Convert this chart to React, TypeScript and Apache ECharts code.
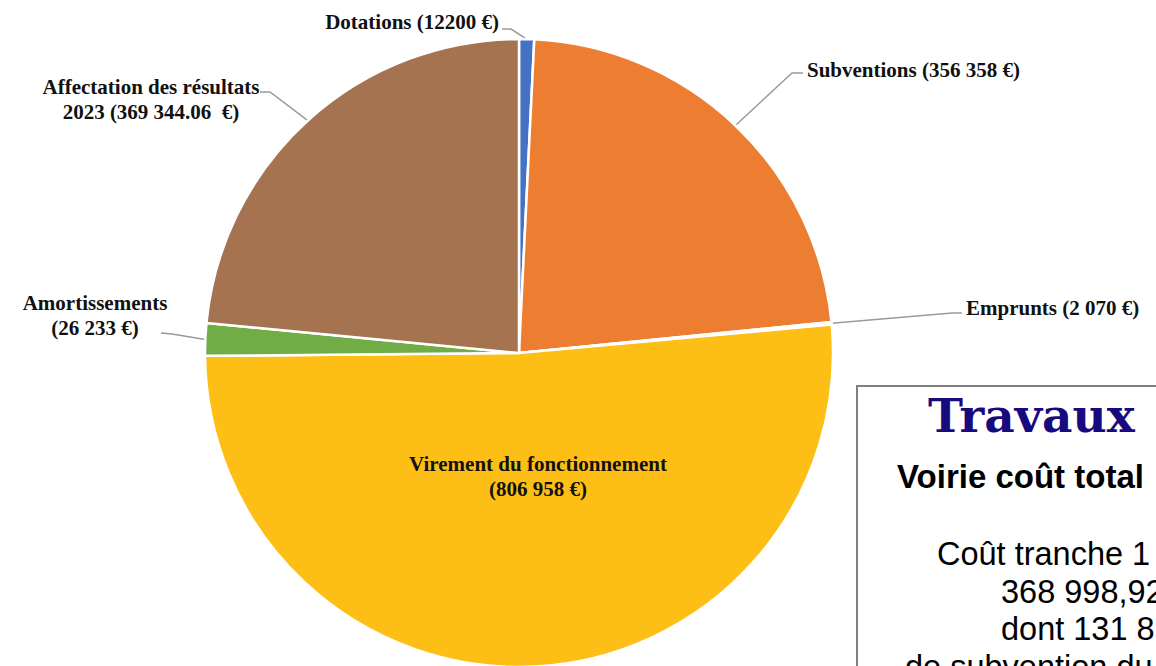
import React, { useEffect, useRef } from "react";
import * as echarts from "echarts";

// ---- data ----
const categories = [
  "Dotations",
  "Subventions",
  "Emprunts",
  "Virement du fonctionnement",
  "Amortissements",
  "Affectation des résultats 2023",
];
const values = [12200, 356358, 2070, 806958, 26233, 369344.06];
const labelTexts = [
  "Dotations (12200 €)",
  "Subventions (356 358 €)",
  "Emprunts (2 070 €)",
  "Virement du fonctionnement\n(806 958 €)",
  "Amortissements\n(26 233 €)",
  "Affectation des résultats\n2023 (369 344.06  €)",
];
const colors = ["#4472C4", "#ED7D31", "#A5A5A5", "#FDBE16", "#70AD47", "#A57350"];

const boxTitle = "Travaux";
const boxHeading = "Voirie coût total";
const boxLines = ["Coût tranche 1", "368 998,92", "dont 131 8", "de subvention du"];

// ---- label placement (annotation layout) ----
type Place = { x: number; y: number; align: string; bend?: number[]; end?: number[] };
const labelPlacement: Place[] = [
  { x: 499, y: 22, align: "right", bend: [511, 29], end: [502, 29] },
  { x: 807, y: 70, align: "left", bend: [792, 73], end: [803, 73] },
  { x: 966, y: 308, align: "left", bend: [952, 313], end: [962, 313] },
  { x: 538, y: 476, align: "center" },
  { x: 95, y: 315, align: "center", bend: [172, 334], end: [161, 333] },
  { x: 151, y: 99, align: "center", bend: [270, 92], end: [260, 92] },
];

export default function App() {
  const ref = useRef<HTMLDivElement>(null);
  useEffect(() => {
    if (!ref.current) return;
    const chart = echarts.init(ref.current, null, { renderer: "svg" });
    const data = categories.map((name, i) => {
      const item: any = { name, value: values[i], itemStyle: { color: colors[i] } };
      if (i === 3) {
        item.label = { position: "inside" };
        item.labelLine = { show: false };
      }
      return item;
    });
    const boxX = 857;
    chart.setOption({
      animation: false,
      backgroundColor: "#ffffff",
      series: [
        {
          type: "pie",
          center: [519, 353],
          radius: 314,
          startAngle: 90,
          clockwise: true,
          avoidLabelOverlap: false,
          silent: true,
          emphasis: { disabled: true },
          itemStyle: { borderColor: "#ffffff", borderWidth: 2.5 },
          label: {
            show: true,
            position: "outside",
            formatter: (p: any) => labelTexts[p.dataIndex],
            fontFamily: "Liberation Serif",
            fontWeight: "bold",
            fontSize: 21,
            lineHeight: 25,
            color: "#111111",
          },
          labelLine: {
            show: true,
            length: 20,
            length2: 10,
            smooth: false,
            lineStyle: { color: "#9a9a9a", width: 1.5 },
          },
          labelLayout: (params: any) => {
            const L = labelPlacement[params.dataIndex];
            const res: any = { x: L.x, y: L.y, align: L.align, verticalAlign: "middle" };
            const pts = params.labelLinePoints;
            if (pts && L.bend && L.end) {
              res.labelLinePoints = [pts[0], L.bend, L.end];
            }
            return res;
          },
          data,
        },
      ],
      graphic: [
        {
          type: "rect",
          shape: { x: boxX, y: 386, width: 400, height: 400 },
          style: { fill: "#ffffff", stroke: "#7f7f7f", lineWidth: 2 },
        },
        {
          type: "text",
          x: 928,
          y: 415,
          style: {
            text: boxTitle,
            fontFamily: "DejaVu Serif",
            fontWeight: "bold",
            fontSize: 47,
            fill: "#170a7e",
            align: "left",
            verticalAlign: "middle",
          },
        },
        {
          type: "text",
          x: 897,
          y: 476,
          style: {
            text: boxHeading,
            fontFamily: "Liberation Sans",
            fontWeight: "bold",
            fontSize: 33,
            fill: "#000000",
            align: "left",
            verticalAlign: "middle",
          },
        },
        ...boxLines.map((t, i) => ({
          type: "text",
          x: [937, 1001, 1001, 905][i],
          y: [554, 592, 629, 667][i],
          style: {
            text: t,
            fontFamily: "Liberation Sans",
            fontSize: 32.5,
            fill: "#000000",
            align: "left",
            verticalAlign: "middle",
          },
        })),
      ],
    });
    return () => chart.dispose();
  }, []);
  return (
    <div
      ref={ref}
      style={{ position: "absolute", left: 0, top: 0, width: 1156, height: 666, overflow: "hidden" }}
    />
  );
}
